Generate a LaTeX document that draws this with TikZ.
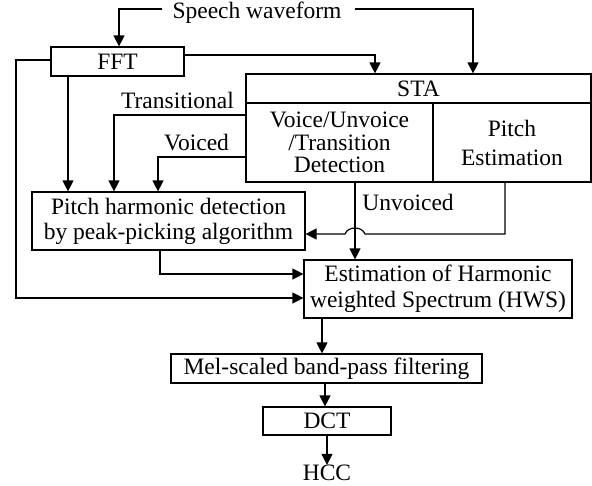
\documentclass[tikz,border=0pt]{standalone}
\usepackage{fontspec}
\setmainfont{Liberation Serif}
\usetikzlibrary{arrows.meta,calc}
\begin{document}
\begin{tikzpicture}[x=1pt,y=-1pt,
  box/.style={draw,line width=1.2pt,inner sep=0pt,minimum width=#1},
  lbl/.style={inner sep=0pt},
  arr/.style={line width=1.2pt,-{Triangle[length=11pt,width=11pt]}},
  font=\fontsize{23.5}{26}\selectfont]
\useasboundingbox[fill=white] (0,0) rectangle (592,485);
% boxes
\node[lbl,inner xsep=10pt] (speech) at (257,12.5) {Speech waveform};
\node[box=133pt,minimum height=29pt] (fft) at (117.5,61.5) {FFT};
\node[box=345pt,minimum height=29pt] (sta) at (418.5,88.5) {STA};
\node[box=187pt,minimum height=79pt,align=center,font=\fontsize{23.5}{22.5}\selectfont] (vut) at (339.5,142.5) {Voice/Unvoice\\/Transition\\Detection};
\node[box=158pt,minimum height=79pt,align=center,font=\fontsize{23.5}{29}\selectfont] (pe) at (512,142.5) {Pitch\\Estimation};
\node[box=273pt,minimum height=58pt,align=center,font=\fontsize{23.5}{25}\selectfont] (phd) at (168.5,221) {Pitch harmonic detection\\by peak-picking algorithm};
\node[box=268pt,minimum height=58pt,align=center] (hws) at (438,289) {Estimation of Harmonic\\weighted Spectrum (HWS)};
\node[box=311pt,minimum height=29pt] (mel) at (326.5,368.5) {Mel-scaled band-pass filtering};
\node[box=128pt,minimum height=28pt] (dct) at (327,421) {DCT};
\node[lbl] (hcc) at (327,473) {HCC};
% labels
\node[lbl] (ltrans) at (177.5,100) {Transitional};
\node[lbl] (lvoiced) at (196.5,143) {Voiced};
\node[lbl] (lunv) at (408,202) {Unvoiced};
% helper coordinates
\coordinate (cL) at (16,60);
\coordinate (hopR) at (365,234);
\coordinate (hopL) at (345,234);
% connectors
\draw[arr] ([yshift=3.5pt]speech.west) -| ([xshift=1.5pt]fft.north);
\draw[arr] ([yshift=3.5pt,xshift=3pt]speech.east) -| ([xshift=54.5pt]sta.north);
\draw[arr] ([yshift=6.5pt]fft.east) -| ([xshift=-43.5pt]sta.north);
\draw[arr] ([yshift=1.5pt]fft.west) -| (cL) |- ([yshift=-9pt]hws.west);
\draw[arr] ([xshift=-49.5pt]fft.south) -- ([xshift=-100.5pt]phd.north);
\draw[arr] ([yshift=27.5pt]vut.west) -| ([xshift=-54.5pt]phd.north);
\draw[arr] ([yshift=-14.5pt]vut.west) -| ([xshift=-10.5pt]phd.north);
\draw[arr] ([xshift=15.5pt]vut.south) -- ([xshift=-83pt]hws.north);
\draw[arr] ([xshift=-7pt]pe.south) |- (hopR) .. controls (362,226) and (348,226) .. (hopL) -- ([yshift=-13pt]phd.east);
\draw[arr] ([xshift=-8.5pt]phd.south) |- ([yshift=15pt]hws.west);
\draw[arr] ([xshift=-116pt]hws.south) -- ([xshift=-4.5pt]mel.north);
\draw[arr] ([xshift=-1.5pt]mel.south) -- ([xshift=-2pt]dct.north);
\draw[arr] (dct.south) -- (hcc.north);
\end{tikzpicture}
\end{document}
